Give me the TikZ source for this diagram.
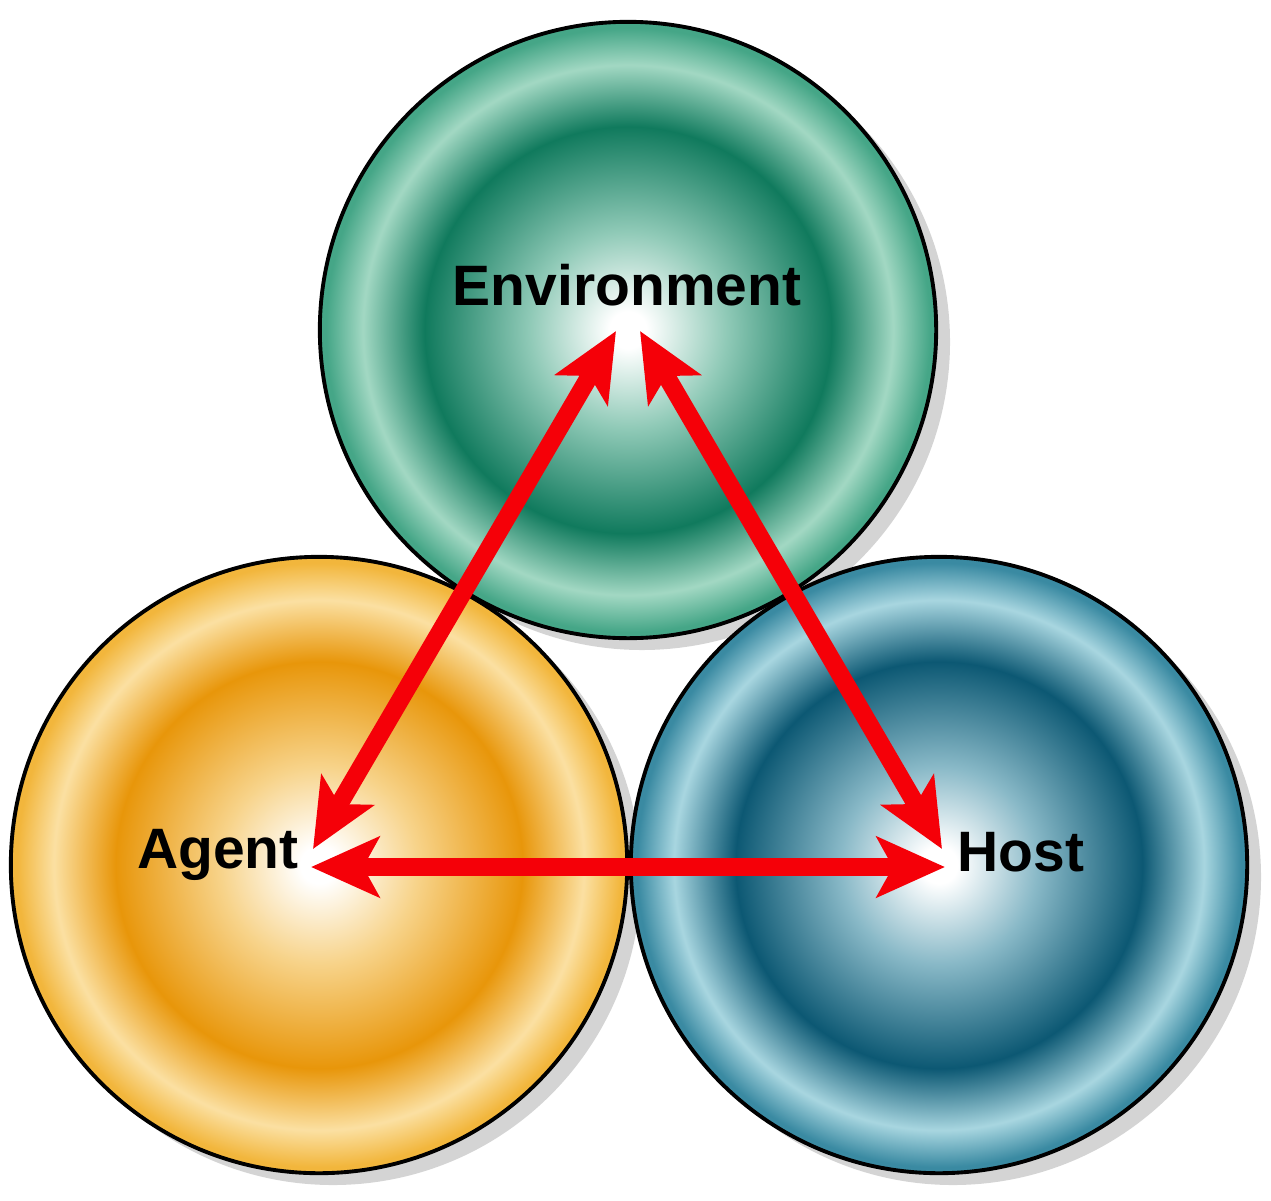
\documentclass[tikz,border=0pt]{standalone}
\usepackage{fontspec}
\setmainfont{Liberation Sans}
\usetikzlibrary{arrows.meta}

\definecolor{envdark}{HTML}{107A5D}
\definecolor{envmid}{HTML}{45A687}
\definecolor{envlight}{HTML}{A2D8C3}
\definecolor{agtdark}{HTML}{E8960A}
\definecolor{agtmid}{HTML}{F2B63C}
\definecolor{agtlight}{HTML}{FBE0A2}
\definecolor{hstdark}{HTML}{0C5873}
\definecolor{hstmid}{HTML}{3A8AA2}
\definecolor{hstlight}{HTML}{A8D6E0}
\definecolor{linkred}{HTML}{F50008}

\pgfdeclareradialshading{envring}{\pgfpoint{0bp}{0bp}}{color(0bp)=(white); color(1.5bp)=(white); color(8bp)=(envmid!60!white); color(16.5bp)=(envdark); color(21.5bp)=(envlight); color(24.5bp)=(envmid); color(25bp)=(envmid); color(50bp)=(envmid)}
\pgfdeclareradialshading{agtring}{\pgfpoint{0bp}{0bp}}{color(0bp)=(white); color(1.5bp)=(white); color(8bp)=(agtmid!60!white); color(16.5bp)=(agtdark); color(21.5bp)=(agtlight); color(24.5bp)=(agtmid); color(25bp)=(agtmid); color(50bp)=(agtmid)}
\pgfdeclareradialshading{hstring}{\pgfpoint{0bp}{0bp}}{color(0bp)=(white); color(1.5bp)=(white); color(8bp)=(hstmid!60!white); color(16.5bp)=(hstdark); color(21.5bp)=(hstlight); color(24.5bp)=(hstmid); color(25bp)=(hstmid); color(50bp)=(hstmid)}

\tikzset{
  ball/.style={circle, draw=black, line width=1.1pt, minimum size=6.16cm, inner sep=0pt},
  ballshadow/.style={fill=black!17},
  tag/.style={font=\bfseries\fontsize{16.2}{19}\selectfont, inner sep=0pt, anchor=base},
  Barb/.tip={Stealth[length=0.68cm, width=0.6cm, inset=0.16cm]},
  link/.style={draw=linkred, line width=0.18cm, Barb-Barb}
}

\begin{document}
\begin{tikzpicture}[x=0.01cm, y=-0.01cm]
	\useasboundingbox (0,0) rectangle (1271,1200);

	% Shadows
	\fill[ballshadow] (642,342) circle (308);
	\fill[ballshadow] (333,877) circle (308);
	\fill[ballshadow] (953,877) circle (308);

	% Balls
	\node[ball, shading=envring] (env) at (628,330) {};
	\node[ball, shading=agtring] (agt) at (319,865) {};
	\node[ball, shading=hstring] (hst) at (939,865) {};

	% Texts
	\node[tag] (envtext) at (627,305) {Environment};
	\node[tag] (agttext) at (218,868) {Agent};
	\node[tag] (hsttext) at (1021,871) {Host};

	% Arrow ends
	\coordinate (envL) at (616,331);
	\coordinate (envR) at (640,331);
	\coordinate (agtUp) at (313,849);
	\coordinate (agtRt) at (311,867);
	\coordinate (hstUp) at (942,849);
	\coordinate (hstLt) at (945,867);

	% Links
	\draw[link] (agtUp) -- (envL);
	\draw[link] (envR) -- (hstUp);
	\draw[link] (agtRt) -- (hstLt);
\end{tikzpicture}
\end{document}
